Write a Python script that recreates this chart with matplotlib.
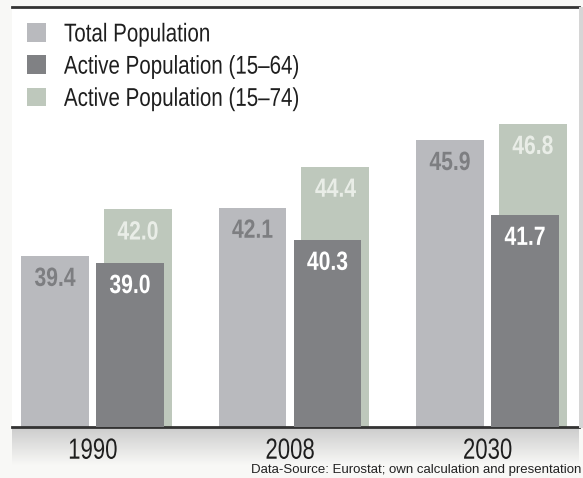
import numpy as np
import matplotlib.pyplot as plt
from matplotlib.patches import Rectangle
from matplotlib.patheffects import AbstractPathEffect
from matplotlib.transforms import Affine2D

years = ["1990", "2008", "2030"]
total_pop = [39.4, 42.1, 45.9]
active_15_64 = [39.0, 40.3, 41.7]
active_15_74 = [42.0, 44.4, 46.8]

c_total = "#b9babe"
c_active64 = "#808184"
c_active74 = "#bec8bc"

FONT = ["Liberation Sans", "DejaVu Sans"]


class Squeeze(AbstractPathEffect):
    # narrow the glyphs horizontally (no condensed font installed)
    def __init__(self, sx=0.8, anchor="center"):
        super().__init__()
        self.sx = sx
        self.anchor = anchor

    def draw_path(self, renderer, gc, tpath, affine, rgbFace=None):
        ext = tpath.get_extents(affine)
        cx = (ext.x0 + ext.x1) / 2 if self.anchor == "center" else ext.x0
        aff = affine + Affine2D().translate(-cx, 0).scale(self.sx, 1).translate(cx, 0)
        renderer.draw_path(gc, tpath, aff, rgbFace)


fig = plt.figure(figsize=(5.83, 4.78), dpi=100)
fig.patch.set_facecolor("#f8f8f6")

# soft shadow under the baseline
grad = fig.add_axes([12 / 583, (478 - 465) / 478, 567 / 583, 38 / 478])
top_c = np.array([0.80, 0.80, 0.80])
bot_c = np.array([0.972, 0.972, 0.965])
t = np.linspace(0, 1, 64)[:, None]
img = (top_c * (1 - t) + bot_c * t)[:, None, :]
grad.imshow(img, aspect="auto", extent=[0, 1, 0, 1], origin="upper")
grad.axis("off")

# right edge shadow
fig.patches.append(Rectangle((579 / 583, 0.105), 4 / 583, 0.88, transform=fig.transFigure,
                             facecolor="#d6d6d6", edgecolor="none"))

ax = fig.add_axes([12 / 583, 1 - 427 / 478, 567 / 583, 420 / 478])
ax.set_facecolor("white")

x = np.arange(len(years))
w = 0.344
off_tot = 0.0456
off_64 = off_tot + 0.38
off_74 = off_tot + 0.42

ax.bar(x + off_tot, total_pop, width=w, align="edge", color=c_total, zorder=2)
ax.bar(x + off_74, active_15_74, width=w, align="edge", color=c_active74, zorder=2)
ax.bar(x + off_64, active_15_64, width=w, align="edge", color=c_active64, zorder=3)


def put_labels(xs, vals, color):
    for xi, v in zip(xs, vals):
        ax.annotate(f"{v:.1f}", (xi + w / 2, v), xytext=(0, -8), textcoords="offset points",
                    ha="center", va="top", fontsize=19, fontweight="bold",
                    color=color, family=FONT, zorder=5,
                    path_effects=[Squeeze(0.8)])


put_labels(x + off_tot, total_pop, "#7d7e81")
put_labels(x + off_74, active_15_74, "#e9ede7")
put_labels(x + off_64, active_15_64, "white")

ax.set_ylim(29.8, 53.35)
ax.set_xlim(0, 567 / 197.5)

ax.set_xticks(x + off_tot + (off_64 - off_tot + w) / 2)
ax.set_xticklabels(years, fontsize=21, family=FONT, color="#1e1e1e")
for lbl in ax.get_xticklabels():
    lbl.set_path_effects([Squeeze(0.76)])
ax.tick_params(axis="x", length=0, pad=7)
ax.set_yticks([])

for s in ["left", "right"]:
    ax.spines[s].set_visible(False)
for s in ["top", "bottom"]:
    ax.spines[s].set_color("#333333")
    ax.spines[s].set_linewidth(2)

labels = ["Total Population", "Active Population (15\u201364)", "Active Population (15\u201374)"]
colors = [c_total, c_active64, c_active74]
handles = [Rectangle((0, 0), 1, 1, facecolor=c, edgecolor="none") for c in colors]
leg = ax.legend(handles, labels, loc="upper left", bbox_to_anchor=(0.0, 1.0),
                frameon=False, prop={"family": FONT, "size": 18.5},
                handlelength=0.74, handleheight=0.74, handletextpad=0.68,
                labelspacing=0.32, borderaxespad=0.3, borderpad=0.3)
for txt in leg.get_texts():
    txt.set_color("#1e1e1e")
    txt.set_path_effects([Squeeze(0.8, anchor="left")])

fig.text(0.997, 0.004, "Data-Source: Eurostat; own calculation and presentation",
         ha="right", va="bottom", fontsize=9.5, family=FONT, color="#222222")

fig.savefig("out.png", dpi=100, facecolor=fig.get_facecolor())
